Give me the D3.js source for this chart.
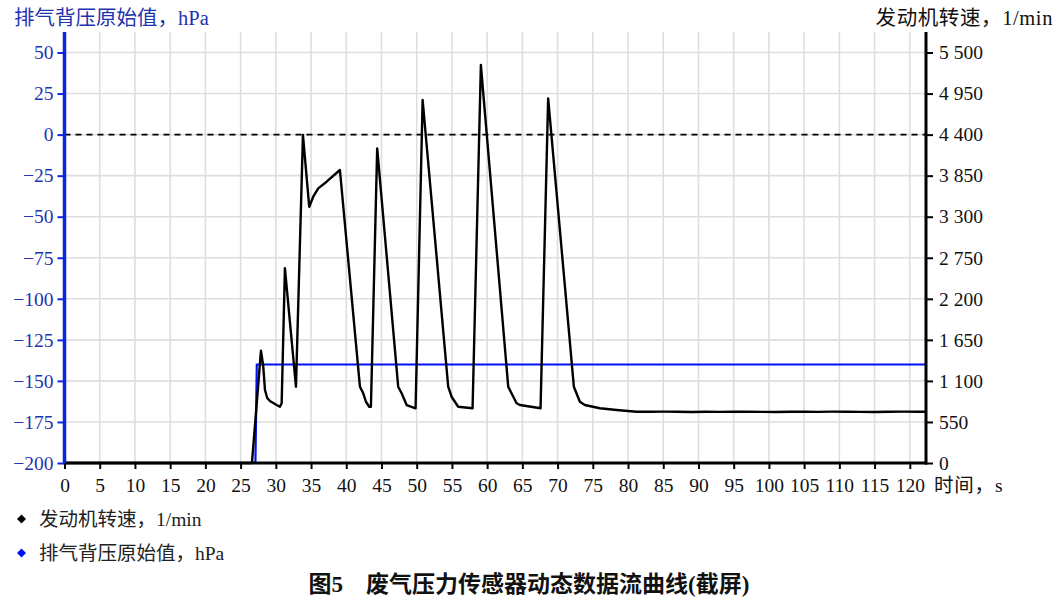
<!DOCTYPE html>
<html>
<head>
<meta charset="utf-8">
<script src="https://cdn.jsdelivr.net/npm/d3@7/dist/d3.min.js"></script>
<style>
  html, body { margin: 0; padding: 0; background: #fff; }
  svg { display: block; }
  text { font-family: "Liberation Serif", "Noto Sans CJK SC", serif; }
</style>
</head>
<body>
<svg id="chart" width="1062" height="606"></svg>
<script>
// ---- data ----
const xTicks = [0,5,10,15,20,25,30,35,40,45,50,55,60,65,70,75,80,85,90,95,100,105,110,115,120];
const leftTicks = [-200,-175,-150,-125,-100,-75,-50,-25,0,25,50];
const rightTicks = [0,550,1100,1650,2200,2750,3300,3850,4400,4950,5500];

const rpmTime = [0,26.61,27.89,28.21,28.46,28.78,29.16,30.12,30.58,30.83,31.29,32.86,33.85,34.74,35.31,36.02,37.21,39.10,
  41.94,42.41,42.79,43.26,43.50,44.39,47.37,47.86,48.57,49.84,50.84,54.47,54.95,55.89,57.93,59.11,62.99,64.18,64.65,67.58,
  68.66,72.31,73.16,73.87,76.0,78.37,81.21,83.1,85,87,89,91,93,95,97,99,101,103,105,107,109,111,113,115,117,119,121,122.3];
const rpmValues = [0,0,1505,1300,978,871,831,777,754,800,2609,1022,4395,3434,3568,3680,3769,3926,
  1022,934,821,754,754,4216,1022,934,777,733,4864,1022,888,754,733,5332,1022,800,777,733,
  4886,1022,821,777,733,710,687,687,688,686,684,687,685,686,688,685,684,687,686,685,688,687,685,684,686,688,686,687];

const pressureTime = [0,27.1,27.3,122.3];
const pressureValues = [-200,-200,-140,-140];

const refLineValue = 0;

const leftLabel = "排气背压原始值，hPa";
const rightLabel = "发动机转速，1/min";
const xLabel = "时间，s";
const legendItems = ["发动机转速，1/min", "排气背压原始值，hPa"];
const titleText = "图5　废气压力传感器动态数据流曲线(截屏)";

// ---- layout ----
const svg = d3.select("#chart");
const L = 64.5, R = 926, T = 32, B = 463;
const blueAxis = "#0d24e0", blueText = "#1f33b0", blueLine = "#0010f5";

const x = d3.scaleLinear().domain([0, 122.3]).range([L, R]);
const yL = d3.scaleLinear().domain([-200, 62.5]).range([B, T]);
const yR = d3.scaleLinear().domain([0, 5775]).range([B, T]);

svg.append("rect").attr("width",1062).attr("height",606).attr("fill","#fff");

// grid
const grid = svg.append("g");
grid.selectAll("line.v").data(xTicks.filter(d=>d>0)).enter().append("line")
  .attr("x1",d=>x(d)).attr("x2",d=>x(d)).attr("y1",T).attr("y2",B)
  .attr("stroke","#dedede").attr("stroke-width",1.6);
grid.selectAll("line.h").data(leftTicks.filter(d=>d>-200)).enter().append("line")
  .attr("x1",L).attr("x2",R).attr("y1",d=>yL(d)).attr("y2",d=>yL(d))
  .attr("stroke","#dedede").attr("stroke-width",1.6);

// reference dashed line
svg.append("line").attr("x1",L).attr("x2",R).attr("y1",yL(refLineValue)).attr("y2",yL(refLineValue))
  .attr("stroke","#000").attr("stroke-width",1.8).attr("stroke-dasharray","6,5");

// series
const lineP = d3.line().x((d,i)=>x(pressureTime[i])).y(d=>yL(d));
svg.append("path").datum(pressureValues).attr("d",lineP)
  .attr("fill","none").attr("stroke",blueLine).attr("stroke-width",2.2);

const lineR = d3.line().x((d,i)=>x(rpmTime[i])).y(d=>yR(d));
svg.append("path").datum(rpmValues).attr("d",lineR)
  .attr("fill","none").attr("stroke","#000").attr("stroke-width",2.4).attr("stroke-linejoin","round");

// axes
const fmtR = d3.formatLocale({thousands:" ", grouping:[3], decimal:".", currency:["",""]}).format(",d");

const gx = svg.append("g").attr("transform",`translate(0,${B})`)
  .call(d3.axisBottom(x).tickValues(xTicks).tickSize(6).tickPadding(5).tickSizeOuter(0));
gx.select(".domain").remove();
gx.selectAll(".tick line").attr("stroke","#000").attr("stroke-width",2);
gx.selectAll(".tick text").attr("font-size",19.5).attr("fill","#111").attr("dy","0.9em");
svg.append("line").attr("x1",L-1).attr("x2",R+1).attr("y1",B).attr("y2",B).attr("stroke","#000").attr("stroke-width",3);

const gl = svg.append("g").attr("transform",`translate(${L},0)`)
  .call(d3.axisLeft(yL).tickValues(leftTicks).tickSize(7).tickPadding(4).tickFormat(d3.format("d")));
gl.select(".domain").remove();
gl.selectAll(".tick line").attr("stroke",blueAxis).attr("stroke-width",2);
gl.selectAll(".tick text").attr("font-size",19.5).attr("fill",blueText).text(d=>d<0?"\u2212"+(-d):d);
svg.append("line").attr("x1",L).attr("x2",L).attr("y1",T).attr("y2",B).attr("stroke",blueAxis).attr("stroke-width",3.5);

const gr = svg.append("g").attr("transform",`translate(${R},0)`)
  .call(d3.axisRight(yR).tickValues(rightTicks).tickSize(7).tickPadding(6).tickFormat(fmtR));
gr.select(".domain").remove();
gr.selectAll(".tick line").attr("stroke","#000").attr("stroke-width",2);
gr.selectAll(".tick text").attr("font-size",19.5).attr("fill","#111");
svg.append("line").attr("x1",R).attr("x2",R).attr("y1",T).attr("y2",B+1.5).attr("stroke","#000").attr("stroke-width",3);

// axis titles
svg.append("text").attr("x",14).attr("y",25).attr("font-size",20.5).attr("fill",blueText).text(leftLabel);
svg.append("text").attr("x",1053).attr("y",25).attr("text-anchor","end").attr("font-size",20.5).attr("fill","#111")
  .attr("letter-spacing",0.6).text(rightLabel);
svg.append("text").attr("x",934).attr("y",492).attr("font-size",19.5).attr("fill","#111").attr("letter-spacing",0.8).text(xLabel);

// legend
const legColors = ["#000", "#0010f5"];
legendItems.forEach((t,i)=>{
  const cy = 519 + i*34;
  svg.append("path").attr("d", d3.symbol(d3.symbolSquare, 40)())
    .attr("transform",`translate(21.5,${cy}) rotate(45)`).attr("fill",legColors[i]);
  svg.append("text").attr("x",39).attr("y",cy+7).attr("font-size",19.5).attr("fill","#222").text(t);
});

// caption
svg.append("text").attr("x",529).attr("y",592).attr("text-anchor","middle")
  .attr("font-size",23).attr("font-weight","bold").attr("fill","#111").text(titleText);
</script>
</body>
</html>
